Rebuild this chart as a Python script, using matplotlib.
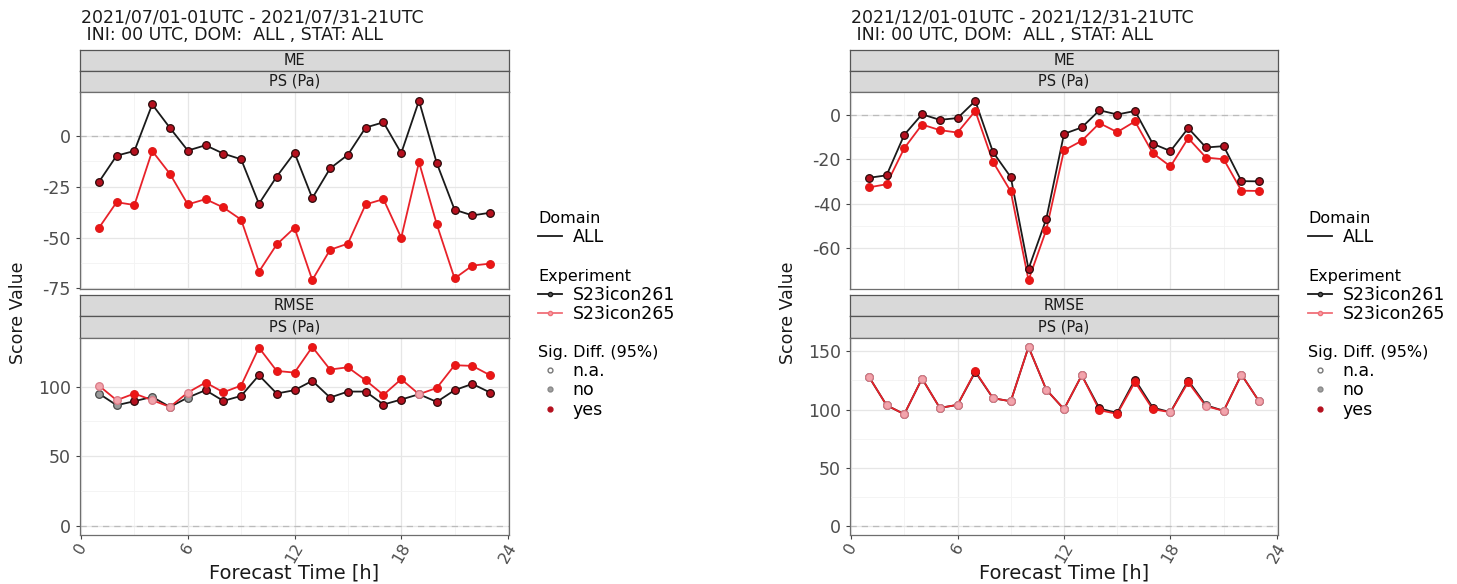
import numpy as np
import matplotlib
matplotlib.use("Agg")
import matplotlib.pyplot as plt
from matplotlib.lines import Line2D

hours = list(range(1, 24))

# July 2021
jul_me_261 = [-22.7, -9.7, -7.4, 15.5, 3.9, -7.2, -4.6, -8.7, -11.5, -33.4, -20.0, -8.3,
              -30.6, -16.0, -9.3, 4.1, 6.7, -8.5, 17.3, -13.4, -36.3, -39.1, -37.8]
jul_me_265 = [-45.3, -32.6, -34.0, -7.4, -18.7, -33.7, -31.1, -35.2, -41.2, -66.8, -53.4, -45.2,
              -70.9, -56.0, -53.0, -33.7, -31.1, -50.1, -12.9, -43.5, -70.1, -63.8, -62.8]
jul_rmse_261 = [95.0, 86.6, 89.5, 92.6, 85.4, 92.1, 97.4, 89.7, 93.3, 108.1, 95.0, 97.4,
                104.1, 92.1, 96.4, 96.4, 87.1, 90.7, 94.5, 89.0, 97.4, 101.9, 95.7]
jul_rmse_265 = [100.7, 90.2, 95.0, 90.2, 85.4, 95.7, 102.9, 95.9, 100.7, 127.9, 111.2, 110.0,
                128.4, 112.2, 113.8, 104.5, 94.0, 105.3, 94.5, 99.0, 115.3, 114.8, 108.1]
jul_me_sig = ['yes'] * 23
jul_rmse_sig = ['no', 'no', 'yes', 'no', 'no', 'no', 'yes', 'yes', 'yes', 'yes', 'yes', 'yes',
                'yes', 'yes', 'yes', 'yes', 'yes', 'yes', 'no', 'yes', 'yes', 'yes', 'yes']

# December 2021
dec_me_261 = [-28.4, -27.3, -9.1, 0.1, -2.4, -1.6, 6.1, -16.9, -28.1, -69.3, -46.9, -8.7,
              -5.8, 1.9, 0.0, 1.6, -13.1, -16.4, -6.1, -14.8, -14.2, -29.9, -30.0]
dec_me_265 = [-32.7, -31.3, -15.1, -4.5, -7.0, -8.1, 1.6, -21.3, -34.5, -74.3, -51.8, -16.1,
              -11.8, -3.9, -7.9, -3.1, -17.3, -23.3, -10.6, -19.3, -20.1, -34.2, -34.3]
dec_rmse_261 = [128.3, 103.7, 96.0, 126.6, 101.4, 104.0, 132.3, 109.7, 107.1, 153.7, 117.1, 100.3,
                129.4, 100.9, 97.1, 125.7, 101.7, 97.7, 124.9, 103.7, 98.9, 130.0, 106.9]
dec_rmse_265 = [128.3, 103.7, 96.0, 126.6, 101.4, 104.0, 132.9, 109.7, 107.1, 153.7, 117.1, 100.3,
                129.4, 99.4, 96.3, 123.7, 100.3, 97.7, 123.4, 102.9, 98.9, 130.0, 106.9]
dec_me_sig = ['yes'] * 23
dec_rmse_sig = ['no', 'no', 'no', 'no', 'no', 'no', 'yes', 'no', 'no', 'no', 'no', 'no',
                'no', 'yes', 'yes', 'yes', 'yes', 'no', 'yes', 'no', 'no', 'no', 'no']

titles = ["2021/07/01-01UTC - 2021/07/31-21UTC\n INI: 00 UTC, DOM:  ALL , STAT: ALL",
          "2021/12/01-01UTC - 2021/12/31-21UTC\n INI: 00 UTC, DOM:  ALL , STAT: ALL"]
x_ticks = [0, 6, 12, 18, 24]

W, H = 1457, 584
fig = plt.figure(figsize=(W / 100, H / 100), dpi=100)

line_col = {'261': '#1a1a1a', '265': '#e8222a'}
face = {('261', 'yes'): '#b5101e', ('261', 'no'): '#9a9a9a',
        ('265', 'yes'): '#ee1515', ('265', 'no'): '#f2a4ac'}
edge = {('261', 'yes'): '#2a0a0a', ('261', 'no'): '#4a4a4a',
        ('265', 'yes'): '#dd1a1a', ('265', 'no'): '#d97a86'}


def px_axes(l, t, r, b):
    return fig.add_axes([l / W, 1 - b / H, (r - l) / W, (b - t) / H])


def strip(l, t, r, b, text):
    s = px_axes(l, t, r, b)
    s.set_facecolor('#d9d9d9')
    s.set_xticks([])
    s.set_yticks([])
    for sp in s.spines.values():
        sp.set_color('#555555')
        sp.set_linewidth(0.9)
    s.text(0.5, 0.5, text, ha='center', va='center', fontsize=10.5, color='#1a1a1a',
           transform=s.transAxes)


def panel(l, t, r, b, y261, y265, sig, yticks, ylim, show_x):
    ax = px_axes(l, t, r, b)
    ax.set_xlim(-0.06, 24.06)
    ax.set_ylim(*ylim)
    ax.set_xticks(x_ticks)
    ax.set_xticks([3, 9, 15, 21], minor=True)
    ax.set_yticks(yticks)
    mids = [(yticks[i] + yticks[i + 1]) / 2 for i in range(len(yticks) - 1)]
    ax.set_yticks(mids, minor=True)
    ax.grid(True, which='major', color='#e6e6e6', lw=0.9)
    ax.grid(True, which='minor', color='#f3f3f3', lw=0.6)
    ax.set_axisbelow(True)
    for sp in ax.spines.values():
        sp.set_color('#6e6e6e')
        sp.set_linewidth(0.9)
    ax.axhline(0, color='#bbbbbb', ls=(0, (5, 4)), lw=0.9, zorder=1)
    ax.tick_params(which='both', length=0)
    ax.tick_params(which='major', length=3, color='#444444',
                   labelsize=12.5, labelcolor='#4d4d4d')
    ax.set_yticklabels([str(v) for v in yticks])
    if show_x:
        ax.tick_params(axis='x', which='major', labelsize=11.5, pad=1)
        ax.set_xticklabels([str(v) for v in x_ticks], rotation=60, ha='center', va='top')
    else:
        ax.set_xticklabels([])
        ax.tick_params(axis='x', which='major', length=0)
    for key, ys in (('261', y261), ('265', y265)):
        ax.plot(hours, ys, color=line_col[key], lw=1.3, zorder=3)
        for h, v, s in zip(hours, ys, sig):
            ax.plot(h, v, 'o', ms=5.5, mfc=face[(key, s)], mec=edge[(key, s)],
                    mew=0.9, zorder=4)
    return ax


def block(x0, x1, title, me261, me265, mesig, rm261, rm265, rmsig, me_ticks, me_lim,
          rm_ticks, rm_lim, lx):
    fig.text((x0 + 1) / W, 1 - 9 / H, title, ha='left', va='top', fontsize=12.5,
             color='#1a1a1a', linespacing=0.95)
    strip(x0, 50, x1, 71, 'ME')
    strip(x0, 71, x1, 92, 'PS (Pa)')
    panel(x0, 92, x1, 289, me261, me265, mesig, me_ticks, me_lim, False)
    strip(x0, 295, x1, 316, 'RMSE')
    strip(x0, 316, x1, 338, 'PS (Pa)')
    panel(x0, 338, x1, 535, rm261, rm265, rmsig, rm_ticks, rm_lim, True)
    fig.text((x0 - 62) / W, 1 - 313 / H, 'Score Value', rotation=90, ha='center',
             va='center', fontsize=12.5, color='#1a1a1a')
    fig.text((x0 + x1) / 2 / W, 1 - 573 / H, 'Forecast Time [h]', ha='center',
             va='center', fontsize=14, color='#1a1a1a')

    common = dict(frameon=False, loc='upper left', alignment='left', fontsize=12.5,
                  title_fontsize=11.5, handlelength=1.4, handletextpad=0.6,
                  labelspacing=0.1, borderaxespad=0, borderpad=0)
    dom = [Line2D([], [], color='#1a1a1a', lw=1.3)]
    fig.legend(dom, ['ALL'], title='Domain', bbox_to_anchor=(lx / W, 1 - 211 / H),
               **common)
    exp = [Line2D([], [], color='#1a1a1a', lw=1.3, marker='o', ms=3,
                  mfc='#555555', mec='#1a1a1a'),
           Line2D([], [], color='#f07078', lw=1.3, marker='o', ms=3,
                  mfc='#f7a0a8', mec='#f07078')]
    fig.legend(exp, ['S23icon261', 'S23icon265'], title='Experiment',
               bbox_to_anchor=(lx / W, 1 - 269 / H), **common)
    sigh = [Line2D([], [], ls='', marker='o', ms=3.5, mfc='white', mec='#777777'),
            Line2D([], [], ls='', marker='o', ms=3.5, mfc='#a0a0a0', mec='#888888'),
            Line2D([], [], ls='', marker='o', ms=3.5, mfc='#b5101e', mec='#b5101e')]
    fig.legend(sigh, ['n.a.', 'no', 'yes'], title='Sig. Diff. (95%)',
               bbox_to_anchor=(lx / W, 1 - 345 / H), **common)


block(80, 509, titles[0], jul_me_261, jul_me_265, jul_me_sig, jul_rmse_261, jul_rmse_265,
      jul_rmse_sig, [-75, -50, -25, 0], (-75.3, 21.6), [0, 50, 100], (-6.4, 134.8), 538)
block(850, 1278, titles[1], dec_me_261, dec_me_265, dec_me_sig, dec_rmse_261, dec_rmse_265,
      dec_rmse_sig, [-60, -40, -20, 0], (-78.3, 10.1), [0, 50, 100, 150], (-7.7, 161.4), 1308)

fig.savefig('out.png', dpi=100)
